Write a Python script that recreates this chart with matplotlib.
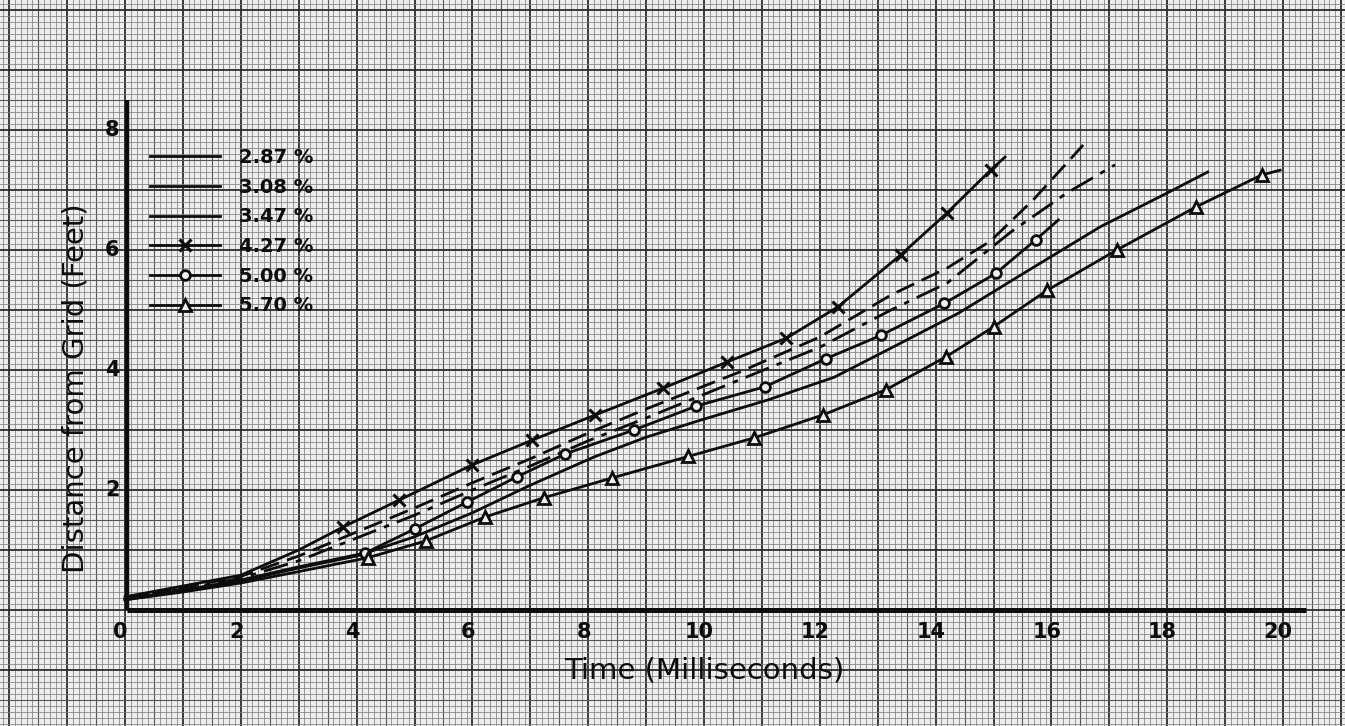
import numpy as np
import matplotlib
matplotlib.use("Agg")
import matplotlib.pyplot as plt
from matplotlib.lines import Line2D

# ---------------- data ----------------
labels = ["2.87 %", "3.08 %", "3.47 %", "4.27 %", "5.00 %", "5.70 %"]

t_287 = [0, 1, 2, 3, 4, 5, 6, 7, 8, 9, 10.65, 12.0, 13.23, 14.2, 14.95, 15.7, 16.55]
d_287 = [0.2, 0.37, 0.56, 0.9, 1.3, 1.7, 2.12, 2.52, 2.95, 3.35, 3.98, 4.55, 5.25, 5.7, 6.15, 6.85, 7.75]

t_308 = [0, 1, 2, 3, 4, 5, 6, 7, 8, 9, 10.65, 12.0, 13.23, 14.2, 15.3, 16.25, 17.1]
d_308 = [0.2, 0.35, 0.53, 0.82, 1.2, 1.58, 2.0, 2.4, 2.82, 3.2, 3.85, 4.38, 5.0, 5.45, 6.3, 6.94, 7.42]

t_347 = [0, 1, 2, 3, 4, 5, 6, 7, 8.1, 9.0, 9.96, 11.1, 12.25, 13.4, 14.4, 15.5, 16.85, 18.0, 18.7]
d_347 = [0.17, 0.32, 0.48, 0.7, 0.9, 1.22, 1.62, 2.08, 2.55, 2.88, 3.17, 3.5, 3.88, 4.45, 4.95, 5.6, 6.39, 6.95, 7.3]

t_427 = [0, 1, 2, 3, 3.76, 4.73, 6.0, 7.03, 8.12, 9.3, 10.39, 11.42, 12.31, 13.4, 14.2, 14.95, 15.2]
d_427 = [0.22, 0.4, 0.58, 1.0, 1.38, 1.83, 2.42, 2.83, 3.25, 3.7, 4.13, 4.53, 5.05, 5.92, 6.62, 7.33, 7.55]

t_500 = [0, 1, 2, 3, 4.15, 5.0, 5.91, 6.77, 7.6, 8.79, 9.87, 11.05, 12.11, 13.06, 14.15, 15.04, 15.73, 16.12]
d_500 = [0.18, 0.33, 0.5, 0.72, 0.95, 1.35, 1.8, 2.22, 2.6, 3.0, 3.4, 3.72, 4.19, 4.58, 5.11, 5.61, 6.17, 6.5]

t_570 = [0, 1, 2, 3, 4.19, 5.19, 6.22, 7.23, 8.41, 9.73, 10.87, 12.05, 13.14, 14.18, 15.0, 15.93, 17.13, 18.5, 19.63, 19.95]
d_570 = [0.17, 0.3, 0.45, 0.64, 0.87, 1.15, 1.55, 1.87, 2.2, 2.56, 2.87, 3.25, 3.67, 4.22, 4.72, 5.33, 6.0, 6.72, 7.25, 7.33]

x_ticks = [0, 2, 4, 6, 8, 10, 12, 14, 16, 18, 20]
y_ticks = [2, 4, 6, 8]
x_title = "Time (Milliseconds)"
y_title = "Distance from Grid (Feet)"

# ---------------- figure ----------------
W, H = 1345, 726
paper = "#eeeeee"
fig = plt.figure(figsize=(W / 100, H / 100), dpi=100)
fig.patch.set_facecolor(paper)
ax = fig.add_axes([0, 0, 1, 1])
ax.set_facecolor(paper)

# pixel mapping: t=0 at x=125 px, 57.9 px per ms ; y=0 at 610 px, 60 px per foot
x0, sx = 125.0, 57.9
y0, sy = 610.0, 60.0
ax.set_xlim(-x0 / sx, (W - x0) / sx)
ax.set_ylim(-(H - y0) / sy, y0 / sy)
ax.axis("off")

# graph-paper grid over the whole sheet
xl, xr = ax.get_xlim()
yb, yt = ax.get_ylim()
fine_x = np.arange(np.floor(xl * 10), np.ceil(xr * 10) + 1) / 10.0
fine_y = np.arange(np.floor(yb * 10), np.ceil(yt * 10) + 1) / 10.0


def grid_style(v):
    k = int(round(v * 10))
    if k % 10 == 0:
        return 1.3, "#2c2c2c"
    if k % 5 == 0:
        return 0.8, "#555555"
    return 0.55, "#808080"


for v in fine_x:
    lw, c = grid_style(v)
    ax.axvline(v, lw=lw, color=c, zorder=0)
for v in fine_y:
    lw, c = grid_style(v)
    ax.axhline(v, lw=lw, color=c, zorder=0)

# axis lines
ink = "#0d0d0d"
ax.plot([0.03, 20.4], [0, 0], color=ink, lw=3.6, solid_capstyle="butt", zorder=3)
ax.plot([0.03, 0.03], [0, 8.5], color=ink, lw=3.2, solid_capstyle="butt", zorder=3)

# tick labels
for v in x_ticks:
    ax.text(v - 0.08, -0.37, str(v), ha="center", va="center", fontsize=15,
            color=ink, fontweight="bold", zorder=4)
for v in y_ticks:
    ax.text(-0.22, v, str(v), ha="center", va="center", fontsize=15,
            color=ink, fontweight="bold", zorder=4)

ax.text(10.0, -1.0, x_title, ha="center", va="center", fontsize=21, color=ink, zorder=4)
ax.text(-0.86, 3.7, y_title, ha="center", va="center", rotation=90, fontsize=21,
        color=ink, zorder=4)

# series
series = [
    (t_287, d_287, dict(ls=(0, (7, 3)), marker=None)),
    (t_308, d_308, dict(ls=(0, (9, 3, 2, 3)), marker=None)),
    (t_347, d_347, dict(ls="-", marker=None)),
    (t_427, d_427, dict(ls="-", marker="x", ms=8, mew=2.2, markevery=list(range(4, 16)))),
    (t_500, d_500, dict(ls="-", marker="o", ms=7, mew=2.0, mfc=paper,
                        markevery=list(range(4, 17)))),
    (t_570, d_570, dict(ls="-", marker="^", ms=8.5, mew=2.0, mfc=paper,
                        markevery=list(range(4, 19)))),
]
handles = []
for (t, d, st), lab in zip(series, labels):
    ax.plot(t, d, color=ink, lw=2.0, zorder=5, **st)
    handles.append(Line2D([], [], color=ink, lw=2.0, ls="-",
                          marker=st.get("marker"), ms=st.get("ms", 8),
                          mew=st.get("mew", 2), mfc=st.get("mfc", ink)))

leg = ax.legend(handles, labels, loc="upper left",
                bbox_to_anchor=(150 / W, 1 - 148 / H), bbox_transform=fig.transFigure,
                frameon=False, fontsize=14, handlelength=3.6, handletextpad=1.0,
                labelspacing=0.55, borderpad=0, borderaxespad=0)
for txt in leg.get_texts():
    txt.set_color(ink)
    txt.set_fontweight("bold")
leg.set_zorder(6)

fig.savefig("out.png", dpi=100, facecolor=fig.get_facecolor())
